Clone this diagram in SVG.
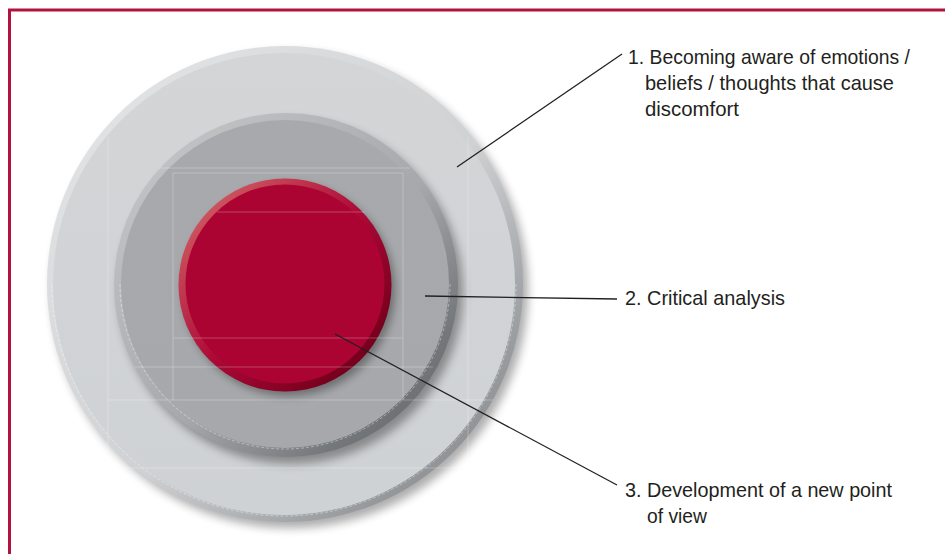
<svg xmlns="http://www.w3.org/2000/svg" width="945" height="554" viewBox="0 0 945 554">
<style>
.lbl{font-family:"Liberation Sans",Arial,Helvetica,sans-serif;font-size:21px;fill:#231f20}
.con{stroke:#231f20;stroke-width:1.3;fill:none}
.ghost{stroke:#ffffff;stroke-opacity:0.25;stroke-width:1;fill:none}
.stitch{fill:none;stroke:#ffffff;stroke-opacity:0.55;stroke-width:0.7;stroke-dasharray:3 2}
</style>
<defs>
<filter id="blur5" x="-20%" y="-20%" width="140%" height="140%"><feGaussianBlur stdDeviation="5"/></filter>
<filter id="blur4" x="-20%" y="-20%" width="140%" height="140%"><feGaussianBlur stdDeviation="4"/></filter>
<linearGradient id="outerRim" x1="0" y1="0" x2="1" y2="1">
<stop offset="0" stop-color="#e6e7e9"/><stop offset="0.55" stop-color="#cfd1d3"/><stop offset="0.8" stop-color="#9a9da0"/><stop offset="1" stop-color="#7a7d80"/>
</linearGradient>
<linearGradient id="midRim" x1="0" y1="0" x2="1" y2="1">
<stop offset="0" stop-color="#c8cacc"/><stop offset="0.55" stop-color="#a6a8ab"/><stop offset="0.8" stop-color="#75787b"/><stop offset="1" stop-color="#5e6164"/>
</linearGradient>
<linearGradient id="redRim" x1="0" y1="0" x2="1" y2="1">
<stop offset="0" stop-color="#d9706f"/><stop offset="0.5" stop-color="#ad0a36"/><stop offset="0.8" stop-color="#7d0020"/><stop offset="1" stop-color="#5e0014"/>
</linearGradient>
<linearGradient id="outerFace" x1="0" y1="0" x2="0" y2="1">
<stop offset="0" stop-color="#d3d5d7"/><stop offset="1" stop-color="#cfd2d4"/>
</linearGradient>
<linearGradient id="midFace" x1="0" y1="0" x2="0" y2="1">
<stop offset="0" stop-color="#a7a9ac"/><stop offset="1" stop-color="#a6a8ab"/>
</linearGradient>
</defs>

<rect width="945" height="554" fill="#ffffff"/>
<path d="M9.5,554 V10 H945" fill="none" stroke="#b3123f" stroke-width="3"/>

<g id="outer-ring">
<circle cx="290" cy="290" r="238" fill="#000" opacity="0.32" filter="url(#blur5)"/>
<circle cx="285" cy="284" r="238" fill="url(#outerRim)"/>
<circle cx="284" cy="284" r="231" fill="url(#outerFace)"/>
<path class="stitch" d="M516,284 A232,232 0 0 1 52,284"/>
</g>

<g id="middle-ring">
<circle cx="291" cy="292" r="172" fill="#000" opacity="0.35" filter="url(#blur5)"/>
<circle cx="286" cy="285" r="172" fill="url(#midRim)"/>
<circle cx="285" cy="284" r="164" fill="url(#midFace)"/>
<path class="stitch" d="M450,284 A165,165 0 0 1 120,284"/>
</g>

<g id="inner-core">
<circle cx="289" cy="290" r="106" fill="#000" opacity="0.35" filter="url(#blur4)"/>
<circle cx="285" cy="285" r="106.5" fill="url(#redRim)"/>
<circle cx="285" cy="284" r="99.5" fill="#ab0433"/>
</g>

<g id="ghost-lines">
<path class="ghost" d="M108,137 V468 H468 V137 M108,400 H493 M173,173 H403 V400 M173,173 V400 M158,168 H410 M217,212 H365 M173,338 H403 M135,367 H433"/>
</g>

<g id="connectors">
<line class="con" x1="457" y1="167" x2="622" y2="54"/>
<line class="con" x1="425" y1="296" x2="617" y2="299"/>
<line class="con" x1="335" y1="334" x2="617" y2="485"/>
</g>

<g id="label-1">
<text class="lbl" x="628" y="64" textLength="282" lengthAdjust="spacingAndGlyphs">1. Becoming aware of emotions /</text>
<text class="lbl" x="645" y="90" textLength="249" lengthAdjust="spacingAndGlyphs">beliefs / thoughts that cause</text>
<text class="lbl" x="645" y="116" textLength="94" lengthAdjust="spacingAndGlyphs">discomfort</text>
</g>

<g id="label-2">
<text class="lbl" x="625" y="305" textLength="160" lengthAdjust="spacingAndGlyphs">2. Critical analysis</text>
</g>

<g id="label-3">
<text class="lbl" x="625" y="497" textLength="267" lengthAdjust="spacingAndGlyphs">3. Development of a new point</text>
<text class="lbl" x="647" y="523" textLength="60" lengthAdjust="spacingAndGlyphs">of view</text>
</g>
</svg>
